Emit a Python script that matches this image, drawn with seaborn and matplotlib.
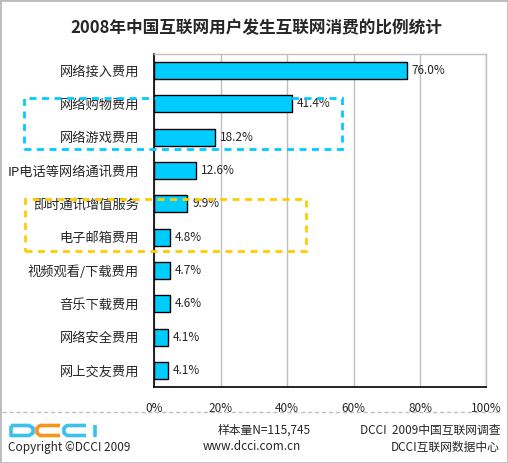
import numpy as np
import pandas as pd
import matplotlib
matplotlib.use("Agg")
import matplotlib.pyplot as plt
import seaborn as sns
from matplotlib.patches import Rectangle
from matplotlib.lines import Line2D

# 数据
categories = ["网络接入费用", "网络购物费用", "网络游戏费用", "IP电话等网络通讯费用",
              "即时通讯增值服务", "电子邮箱费用", "视频观看/下载费用", "音乐下载费用",
              "网络安全费用", "网上交友费用"]
values = [76.0, 41.4, 18.2, 12.6, 9.9, 4.8, 4.7, 4.6, 4.1, 4.1]
x_ticks = [0, 20, 40, 60, 80, 100]

df = pd.DataFrame({"item": categories, "pct": values})

sns.set_style("white")
plt.rcParams["font.family"] = ["Noto Sans CJK SC", "DejaVu Sans"]

W, H = 508, 463
fig = plt.figure(figsize=(W / 100, H / 100), dpi=100)

def fx(px):
    return px / W

def fy(py):
    return 1 - py / H

ax = fig.add_axes([fx(154.3), fy(387), fx(486.5) - fx(154.3), fy(54) - fy(387)])
sns.barplot(data=df, x="pct", y="item", orient="h", color="#00CCFF",
            edgecolor="black", linewidth=1, width=0.51, saturation=1, ax=ax)

ax.set_xlim(0, 100)
ax.set_xticks(x_ticks)
ax.set_xticklabels([f"{t}%" for t in x_ticks], fontsize=8.5)
ax.set_xlabel("")
ax.set_ylabel("")
ax.tick_params(axis="y", length=0, pad=11, labelsize=9.5)
ax.tick_params(axis="x", length=0, pad=11)
ax.xaxis.grid(True, color="#C0C0C0", linewidth=1)
ax.set_axisbelow(True)
for side in ["top", "right"]:
    ax.spines[side].set_color("#C0C0C0")
    ax.spines[side].set_linewidth(1)
for side in ["left", "bottom"]:
    ax.spines[side].set_color("black")
    ax.spines[side].set_linewidth(1.2)

for i, v in enumerate(values):
    ax.annotate(f"{v:.1f}%", (v, i), xytext=(3.5, 0), textcoords="offset points",
                va="center", ha="left", fontsize=8.5)

# 标题
fig.text(0.505, fy(28), "2008年中国互联网用户发生互联网消费的比例统计",
         ha="center", va="center", fontsize=12, fontweight="bold")

# 虚线框
fig.add_artist(Rectangle((fx(24.3), fy(149)), fx(342) - fx(24.3), fy(98) - fy(149),
                         transform=fig.transFigure, fill=False, edgecolor="#00CCFF",
                         linewidth=2, linestyle=(0, (2.5, 2))))
fig.add_artist(Rectangle((fx(25), fy(251)), fx(306) - fx(25), fy(198.7) - fy(251),
                         transform=fig.transFigure, fill=False, edgecolor="#FFCC00",
                         linewidth=2, linestyle=(0, (2.5, 2))))

# 页脚分隔线
fig.add_artist(Line2D([fx(2), fx(502)], [fy(412), fy(412)], transform=fig.transFigure,
                      color="#C0C0C0", linewidth=1, linestyle=(0, (3, 2))))

# DCCI 标志
blue, orange = "#3CC0F0", "#F7941D"
lw = 2.6
def logo_line(xs, ys, c):
    fig.add_artist(Line2D([fx(x) for x in xs], [fy(y) for y in ys], transform=fig.transFigure,
                          color=c, linewidth=lw, solid_joinstyle="round", solid_capstyle="butt"))
logo_line([11, 29, 33, 33, 29, 11, 11], [425.5, 425.5, 428, 433, 435.5, 435.5, 425.5], blue)
logo_line([60, 40, 37, 37, 40, 60], [425.5, 425.5, 428, 433, 435.5, 435.5], orange)
logo_line([86, 67, 64, 64, 67, 86], [425.5, 425.5, 428, 433, 435.5, 435.5], blue)
logo_line([95, 95], [424.5, 436.5], blue)

# 页脚文字
fs = 8.5
fig.text(fx(8), fy(447), "Copyright ©DCCI 2009", ha="left", va="center", fontsize=fs)
fig.text(fx(218), fy(430), "样本量N=115,745", ha="left", va="center", fontsize=fs)
fig.text(fx(252), fy(447), "www.dcci.com.cn", ha="center", va="center", fontsize=fs)
fig.text(fx(500), fy(430), "DCCI  2009中国互联网调查", ha="right", va="center", fontsize=fs)
fig.text(fx(500), fy(447), "DCCI互联网数据中心", ha="right", va="center", fontsize=fs)

# 外框
fig.add_artist(Rectangle((0, 0), 1, 1, transform=fig.transFigure, fill=False,
                         edgecolor="#BBBBBB", linewidth=2))

fig.savefig("out.png", dpi=100)
